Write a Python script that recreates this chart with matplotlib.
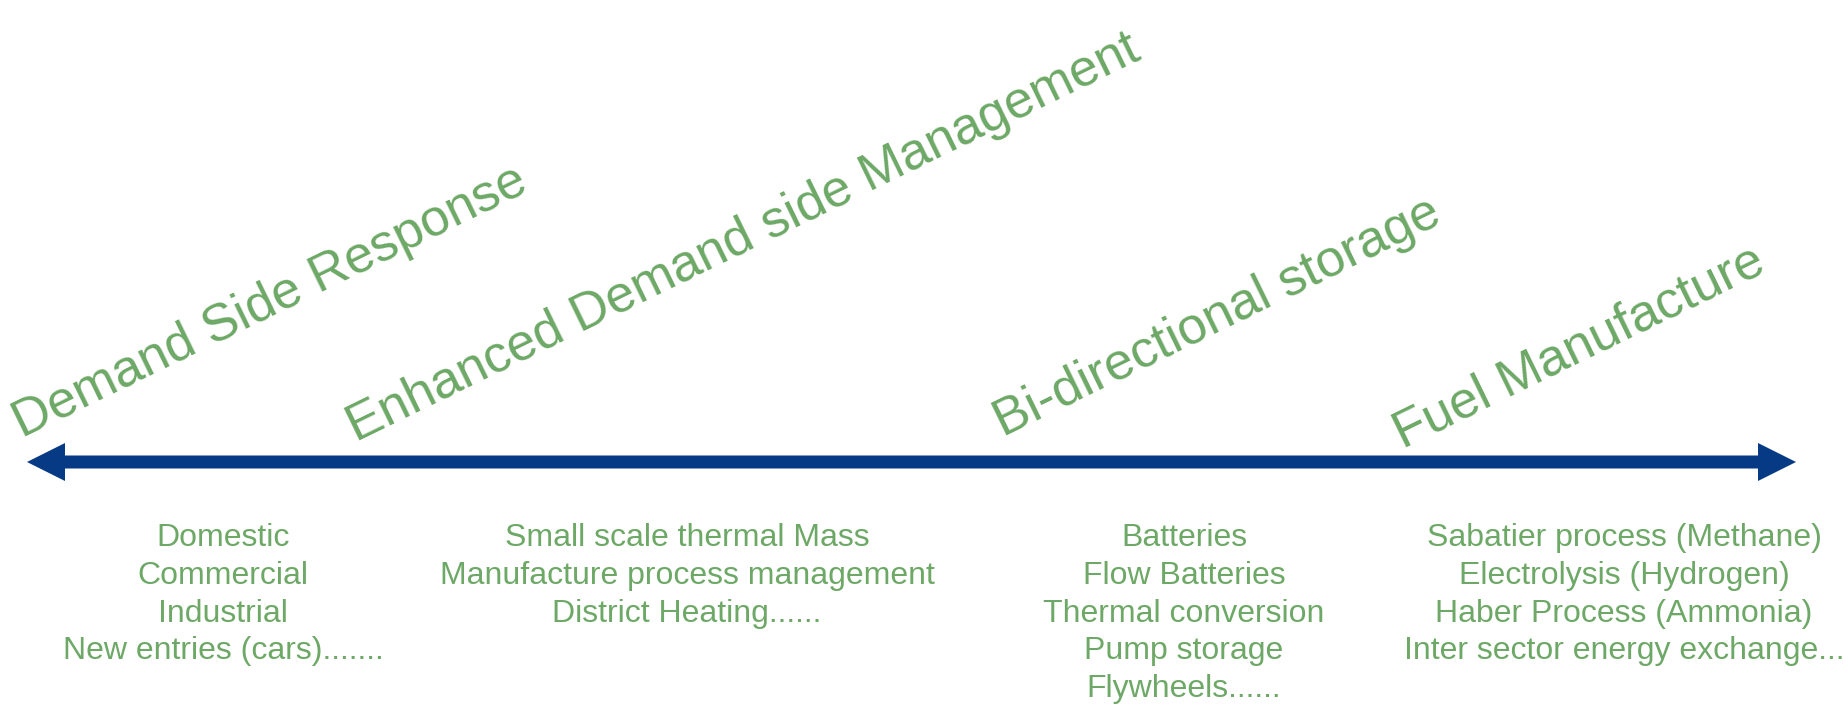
import numpy as np
import matplotlib.pyplot as plt
from matplotlib.patches import Polygon

plt.rcParams['font.family'] = ['Liberation Sans', 'DejaVu Sans']

# headings written along the arrow (x, y of first letter baseline in pixels)
titles = ['Demand Side Response', 'Enhanced Demand side Management',
          'Bi-directional storage', 'Fuel Manufacture']
title_x = [22, 356, 1003, 1403]
title_y = [438, 442, 437, 449]

# items listed under the arrow
items = [
    ['Domestic', 'Commercial', 'Industrial', 'New entries (cars).......'],
    ['Small scale thermal Mass', 'Manufacture process management', 'District Heating......'],
    ['Batteries', 'Flow Batteries', 'Thermal conversion', 'Pump storage', 'Flywheels......'],
    ['Sabatier process (Methane)', 'Electrolysis (Hydrogen)', 'Haber Process (Ammonia)',
     'Inter sector energy exchange...'],
]
item_x = [223, 687, 1184, 1624]

green = '#6DA866'
blue = '#063A85'

W, H = 1843, 709
fig = plt.figure(figsize=(W / 100, H / 100), dpi=100)
ax = fig.add_axes([0, 0, 1, 1])
ax.set_xlim(0, W)
ax.set_ylim(H, 0)
ax.axis('off')

# double headed arrow
x0, x1, yc = 27, 1796, 462
shaft, head_w, head_l = 6.5, 19, 38
pts = [(x0, yc), (x0 + head_l, yc - head_w), (x0 + head_l, yc - shaft),
       (x1 - head_l, yc - shaft), (x1 - head_l, yc - head_w), (x1, yc),
       (x1 - head_l, yc + head_w), (x1 - head_l, yc + shaft),
       (x0 + head_l, yc + shaft), (x0 + head_l, yc + head_w)]
ax.add_patch(Polygon(pts, closed=True, color=blue, lw=0))

for t, x, y in zip(titles, title_x, title_y):
    ax.text(x, y, t, fontsize=37.5, color=green, rotation=26,
            rotation_mode='anchor', ha='left', va='baseline')

for lines, x in zip(items, item_x):
    ax.text(x, 523, '\n'.join(lines), fontsize=23, color=green,
            ha='center', va='top', linespacing=1.34)

fig.savefig('out.png', dpi=100)
